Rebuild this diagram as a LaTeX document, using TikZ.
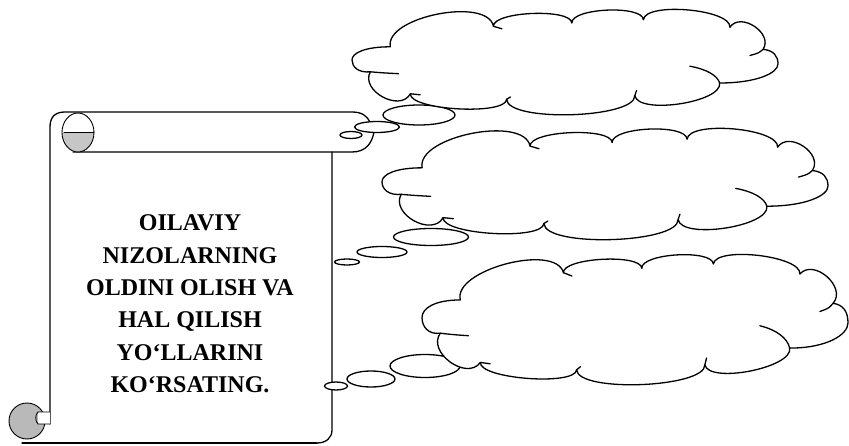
\documentclass[tikz,border=0pt]{standalone}
\usepackage{fontspec}
\setmainfont{Liberation Serif}
\usetikzlibrary{calc}
\tikzset{
  ln/.style={line width=1.3pt, black, line cap=round, line join=round},
  thinln/.style={line width=0.9pt, black, line cap=round, line join=round},
  bub/.style={ln, fill=white},
}
\newcommand\lobe[3]{.. controls ($(#1)!#3!90:(#2)$) and ($(#2)!#3!-90:(#1)$) .. (#2)}
\newcommand\mycloud[4]{%
\begin{scope}[shift={(#1pt,#2pt)},x=#3pt,y=#4pt]
 \coordinate (c1) at (0.090,0.662);
 \coordinate (c2) at (0.332,0.867);
 \coordinate (c3) at (0.516,0.900);
 \coordinate (c4) at (0.684,0.932);
 \coordinate (c5) at (0.887,0.857);
 \coordinate (c6) at (0.965,0.637);
 \coordinate (c7) at (0.863,0.300);
 \coordinate (c8) at (0.664,0.175);
 \coordinate (c9) at (0.363,0.137);
 \coordinate (c10) at (0.137,0.192);
 \coordinate (c11) at (0.043,0.412);
 \coordinate (cr) at (1,0.49);
 \coordinate (cl) at (0,0.53);
 \draw[ln, fill=white] (c1) \lobe{c1}{c2}{0.29} \lobe{c2}{c3}{0.19} \lobe{c3}{c4}{0.21}
   \lobe{c4}{c5}{0.21} \lobe{c5}{c6}{0.48}
   .. controls (0.99,0.625) and (1,0.57) .. (cr)
   .. controls (1,0.40) and (0.95,0.30) .. (c7)
   \lobe{c7}{c8}{0.23}
   \lobe{c8}{c9}{0.18} \lobe{c9}{c10}{0.17} \lobe{c10}{c11}{0.47}
   .. controls (0.015,0.40) and (0,0.46) .. (cl)
   .. controls (0,0.60) and (0.03,0.662) .. (c1) -- cycle;
 \draw[ln] (0.793,0.468) .. controls (0.832,0.438) and (0.858,0.375) .. (c7);
 \draw[ln] (c6) .. controls (0.955,0.600) .. (0.934,0.575);
 \draw[ln] (c11) .. controls (0.070,0.402) .. (0.109,0.393);
 \draw[ln] (c2) .. controls (0.342,0.860) .. (0.352,0.842);
 \draw[ln] (c8) .. controls (0.666,0.200) .. (0.668,0.225);
 \draw[ln] (c9) .. controls (0.366,0.150) .. (0.372,0.160);
 \draw[ln] (c10) .. controls (0.148,0.185) .. (0.160,0.182);
\end{scope}}
\begin{document}
\begin{tikzpicture}[x=1pt,y=1pt]
\useasboundingbox (0,0) rectangle (849,445);
\fill[white] (0,0) rectangle (849,445);
% scroll body
\fill[white] (50,2) rectangle (332,333);
\draw[ln] (50,21) -- (50,318) .. controls (50,328) and (55,333) .. (65,333) -- (352,333)
  .. controls (362,333) and (367,329) .. (370,323);
\draw[ln] (73,293) -- (352,293) .. controls (366,293) and (372,302) .. (374,313);
\draw[ln] (332,293) -- (332,15) .. controls (332,7) and (326,2) .. (317,2);
\draw[ln] (22,2) -- (317,2);
% top curl
\fill[gray!45] (62,312.5) arc[start angle=180, end angle=360, x radius=16, y radius=19.5] -- cycle;
\draw[thinln] (78,312.5) ellipse[x radius=16, y radius=19.5];
\draw[thinln] (64,313) -- (94,313);
% bottom curl
\fill[gray!55] (27,24) circle[radius=18];
\draw[thinln] (27,24) circle[radius=18];
\fill[white] (38,21) rectangle (50,33);
\draw[thinln] (50,33) -- (38,33) .. controls (35,30) and (35,24) .. (38,21) -- (50,21);
% text
\node[align=center, font=\fontsize{24}{32.4}\selectfont\bfseries] (title) at (190,141)
  {OILAVIY\\NIZOLARNING\\OLDINI OLISH VA\\HAL QILISH\\YO‘LLARINI\\KO‘RSATING.};
% bubbles
\draw[bub] (351,310) ellipse[x radius=11, y radius=3.5];
\draw[bub] (377,318) ellipse[x radius=22.5, y radius=5.5];
\draw[bub] (419,330) ellipse[x radius=36, y radius=10];
\draw[bub] (347,183) ellipse[x radius=12.5, y radius=3];
\draw[bub] (382,193) ellipse[x radius=25, y radius=5.5];
\draw[bub] (431,208) ellipse[x radius=37.5, y radius=8.5];
\draw[bub] (336,59) ellipse[x radius=11.5, y radius=4];
\draw[bub] (371,66) ellipse[x radius=24, y radius=8];
\draw[bub] (425,79) ellipse[x radius=35, y radius=11.5];
% clouds
\mycloud{352}{332}{426}{100}
\mycloud{382}{207}{446}{106}
\mycloud{422}{57}{426}{133}
\end{tikzpicture}
\end{document}
